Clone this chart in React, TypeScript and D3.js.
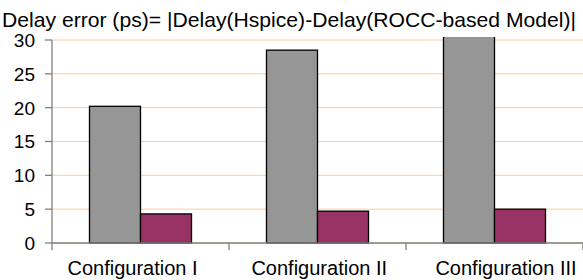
import * as d3 from "d3";

const categories = ["Configuration I", "Configuration II", "Configuration III"];
const seriesNames = ["Hspice", "ROCC"];
const hspiceErr = [20.2, 28.5, 31.5];
const roccErr = [4.3, 4.7, 5.0];
const yTicks = [0, 5, 10, 15, 20, 25, 30];
const titleText = "Delay error (ps)= |Delay(Hspice)-Delay(ROCC-based Model)|";

const colors: Record<string, string> = { Hspice: "#969696", ROCC: "#993366" };

export default function App() {
  const width = 583, height = 280;
  const left = 52, right = 583, top = 40, bottom = 243;

  const x = d3.scaleBand<string>().domain(categories).range([left, right]).padding(0);
  // two bars ~51px wide centred in each 177px category
  const inner = d3.scaleBand<string>().domain(seriesNames).range([0, x.bandwidth()]).paddingInner(0).paddingOuter(0.735);
  const y = d3.scaleLinear().domain([0, 30]).range([bottom, top]);
  // category labels are spread a bit wider than the bands in the original
  const xLabel = d3.scalePoint<string>().domain(categories).range([132.5, 506]);

  const rows = categories.map((c, i) => ({ c, vals: [hspiceErr[i], roccErr[i]] }));
  const font = "'Liberation Sans', Arial, sans-serif";
  const boundaries = [...categories.map((c) => x(c)!), right];

  return (
    <svg width={width} height={height} style={{ position: "absolute", left: 0, top: 0, background: "#fff" }} fontFamily={font}>
      <defs>
        <clipPath id="plot">
          <rect x={left} y={37} width={right - left} height={bottom - 37 + 2} />
        </clipPath>
      </defs>
      {yTicks.map((t) => (
        <line key={"g" + t} x1={left} x2={right} y1={y(t)} y2={y(t)} stroke="#ffcc99" strokeWidth={1} />
      ))}
      <g clipPath="url(#plot)">
        {rows.map((r) =>
          r.vals.map((v, j) => (
            <rect
              key={r.c + j}
              x={x(r.c)! + inner(seriesNames[j])!}
              y={y(v)}
              width={inner.bandwidth()}
              height={bottom - y(v)}
              fill={colors[seriesNames[j]]}
              stroke="#000"
              strokeWidth={1.3}
            />
          ))
        )}
      </g>
      <line x1={left} x2={left} y1={top} y2={bottom} stroke="#808080" strokeWidth={1.3} />
      <line x1={left} x2={right} y1={bottom} y2={bottom} stroke="#808080" strokeWidth={1.3} />
      {yTicks.map((t) => (
        <g key={"t" + t}>
          <line x1={left - 7} x2={left} y1={y(t)} y2={y(t)} stroke="#808080" strokeWidth={1.3} />
          <text x={35} y={y(t)} dy="0.36em" textAnchor="end" fontSize={19}>{t}</text>
        </g>
      ))}
      {boundaries.map((b, i) => (
        <line key={"xt" + i} x1={b} x2={b} y1={bottom} y2={bottom + 7} stroke="#808080" strokeWidth={1.3} />
      ))}
      {categories.map((c) => (
        <text key={"l" + c} x={xLabel(c)!} y={275} textAnchor="middle" fontSize={20}>{c}</text>
      ))}
      <text x={2} y={27} fontSize={21} textLength={574} lengthAdjust="spacingAndGlyphs">{titleText}</text>
    </svg>
  );
}
